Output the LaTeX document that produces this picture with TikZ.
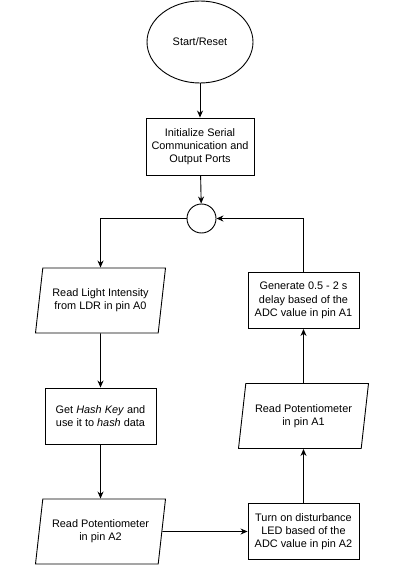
\documentclass[tikz,border=0pt]{standalone}
\usepackage{fontspec}
\setmainfont{Liberation Sans}
\usepackage{tikz}
\usetikzlibrary{arrows.meta,shapes.geometric}
\tikzset{
    line color/.style={black},
    shape line/.style={line color,draw,line width=0.9pt},
    terminal/.style={shape line,ellipse,minimum width=106pt,minimum height=82pt,inner sep=0pt},
    process/.style={shape line,rectangle,minimum width=111pt,minimum height=56pt,inner sep=2pt,align=center},
    inout/.style={shape line,trapezium,trapezium left angle=74,trapezium right angle=106,trapezium stretches body,
        minimum width=130pt,minimum height=65pt,inner sep=1pt,align=center},
    junction/.style={shape line,circle,minimum size=29pt,inner sep=0pt},
    arr/.style={->,>={Stealth[length=7pt,width=6pt]},line color,line width=0.9pt},
}
\tikzstyle{every node}=[font=\fontsize{10.9}{13.3}\selectfont]

\begin{document}
\begin{tikzpicture}[x=1pt,y=-1pt]
    \useasboundingbox (0,0) rectangle (411,585);

    % top of the chart
    \node[terminal] (start) at (200,42) {Start/Reset};
    \node[process,minimum width=108pt,minimum height=57pt] (init) at (200,146.5) {Initialize Serial\\Communication and\\Output Ports};
    \node[junction] (join) at (201.5,218.5) {};

    % left column
    \node[inout] (ldr) at (100.5,300.5) {Read Light Intensity\\from LDR in pin A0};
    \node[process] (hash) at (100.5,416) {Get \textit{Hash Key} and\\use it to \textit{hash} data};
    \node[inout] (potA2) at (100.5,531.5) {Read Potentiometer\\in pin A2};

    % right column
    \node[process] (led) at (303.5,531.5) {Turn on disturbance\\LED based of the\\ADC value in pin A2};
    \node[inout] (potA1) at (303.5,416) {Read Potentiometer\\in pin A1};
    \node[process] (delay) at (303.5,300.5) {Generate 0.5 - 2 s\\delay based of the\\ADC value in pin A1};

    \draw[arr] (start) -- (init);
    \draw[arr] (init) -- (join);
    \draw[arr] (join.west) -| (ldr.north);
    \draw[arr] (ldr) -- (hash);
    \draw[arr] (hash) -- (potA2);
    \draw[arr] (potA2.east) -- (led.west);
    \draw[arr] (led) -- (potA1);
    \draw[arr] (potA1) -- (delay);
    \draw[arr] (delay.north) |- (join.east);
\end{tikzpicture}
\end{document}
